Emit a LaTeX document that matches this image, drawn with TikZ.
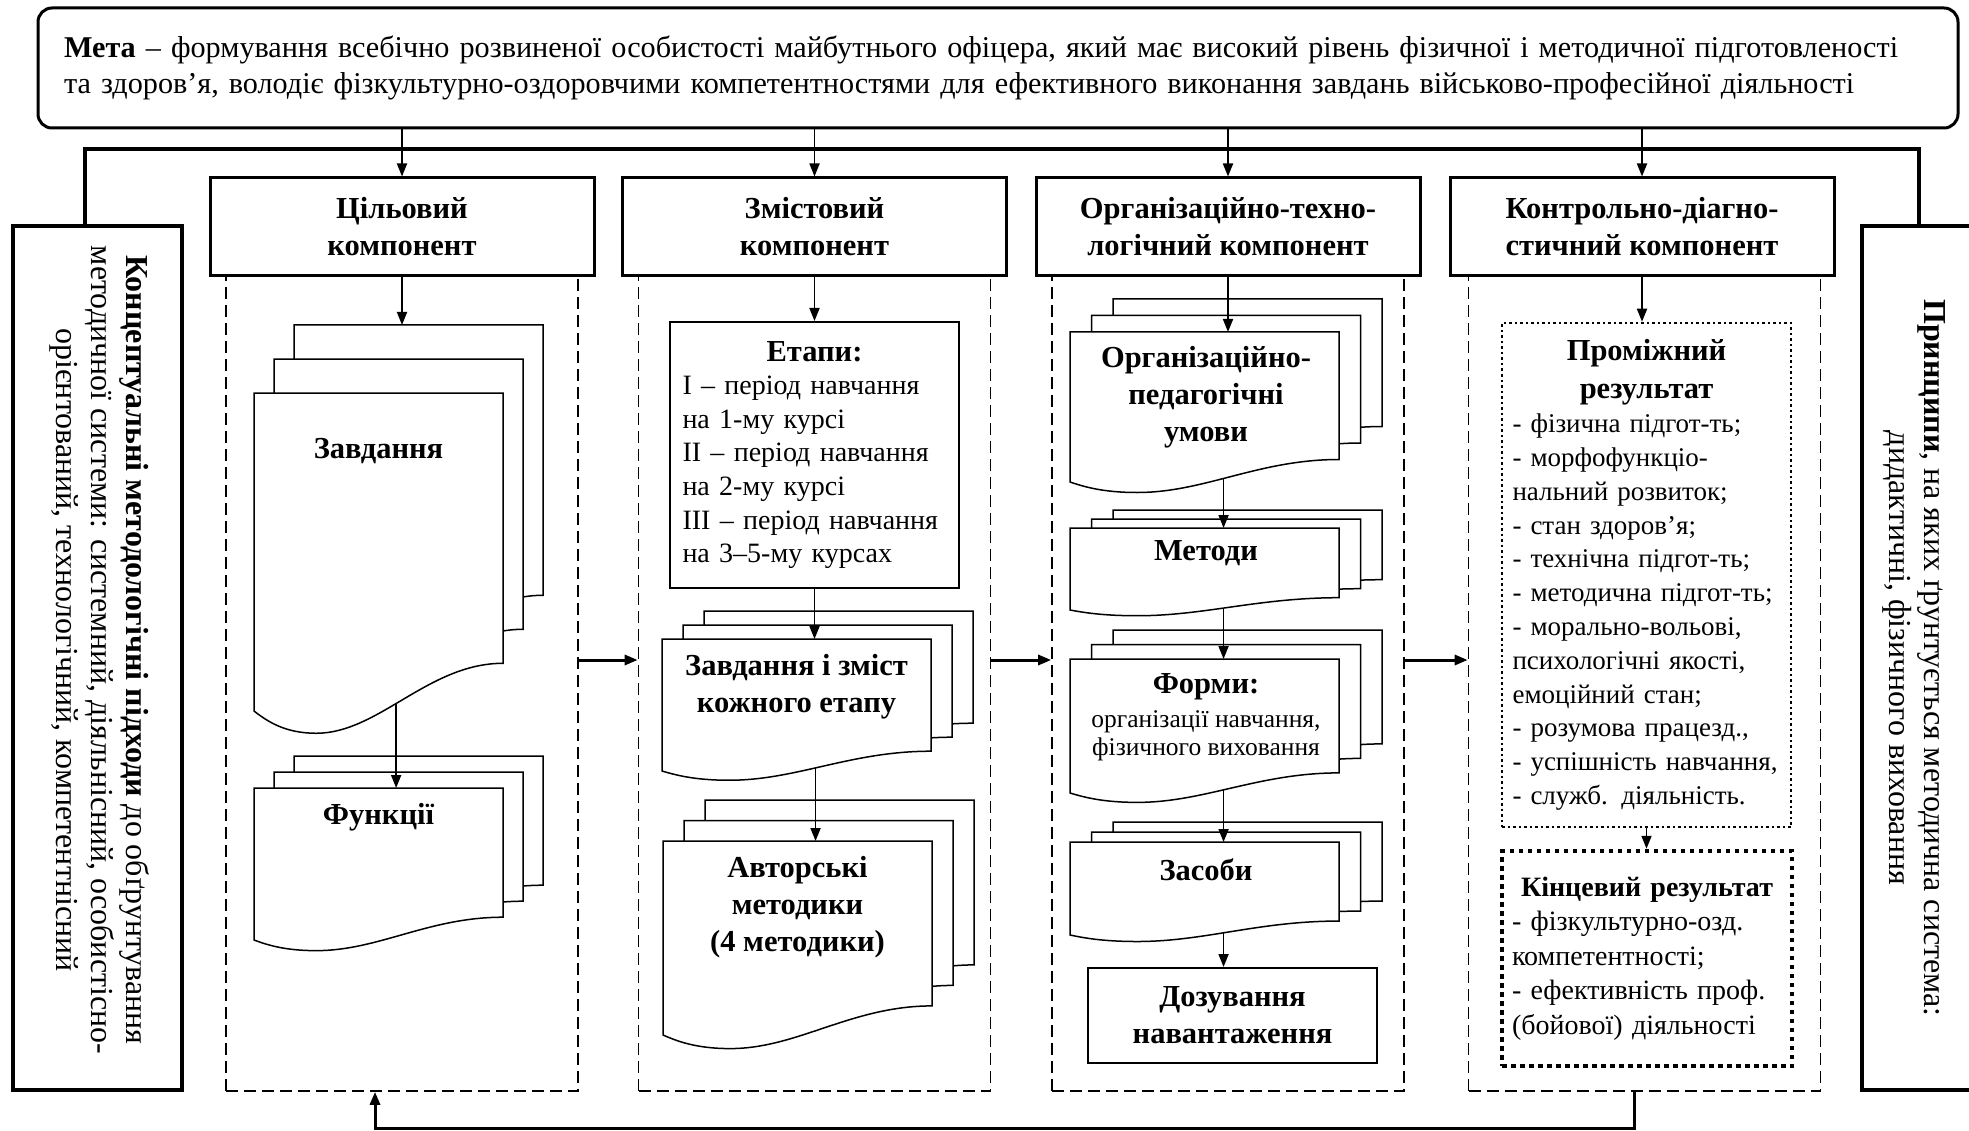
\documentclass[tikz,border=0pt]{standalone}
\usepackage{fontspec}
\setmainfont{Liberation Serif}
\usetikzlibrary{arrows.meta,backgrounds}

% one sheet of a document stack: x, y, width, height, name
\newcommand{\sheet}[5]{%
  \path[sheet] ({#1},{#2}) -- ({#1+#3},{#2}) coordinate[midway] (#5-t)
    -- ({#1+#3},{#2+0.85*#4})
    .. controls ({#1+0.7*#3},{#2+0.85*#4}) and ({#1+0.5*#3},{#2+1.07*#4})
    .. ({#1+0.25*#3},{#2+1.07*#4}) coordinate[pos=0.55] (#5-w)
    .. controls ({#1+0.12*#3},{#2+1.07*#4}) and ({#1+0.05*#3},{#2+1.03*#4})
    .. ({#1},{#2+#4}) -- cycle;}
% three sheets: x, y, width, height, dx, dy, name
\newcommand{\docstack}[7]{%
  \begin{scope}[on background layer]
    \sheet{#1+2*(#5)}{#2+2*(#6)}{#3}{#4}{#7-b}
    \sheet{#1+#5}{#2+#6}{#3}{#4}{#7-m}
    \sheet{#1}{#2}{#3}{#4}{#7}
  \end{scope}}

\begin{document}
\begin{tikzpicture}[x=1pt, y=-1pt,
    >={Triangle[length=13pt,width=10pt]},
    txt/.style={font=\fontsize{32}{35}\selectfont, align=center},
    bt/.style={font=\bfseries\fontsize{30.5}{37}\selectfont, align=center},
    hdr/.style={draw, fill=white, line width=3pt, minimum width=384, minimum height=98, bt},
    col/.style={draw, line width=1.6pt, dash pattern=on 12pt off 6pt, minimum width=352, minimum height=815},
    side/.style={draw, line width=4pt, minimum width=169, minimum height=864},
    plainbox/.style={draw, line width=2pt, fill=white},
    sheet/.style={draw, fill=white, line width=1.5pt},
    arr/.style={->, line width=1.8pt},
    harr/.style={->, line width=3pt},
    bus/.style={line width=4pt}]
    \useasboundingbox (0,0) rectangle (1969,1131);

    % goal
    \node[draw, line width=3pt, rounded corners=14pt, minimum width=1920, minimum height=120,
          text width=1868, inner xsep=26, align=left, font=\fontsize{30.2}{36}\selectfont] (meta) at (998,68)
        {\textbf{Мета} – формування всебічно розвиненої особистості майбутнього офіцера, який має високий рівень фізичної і методичної підготовленості\\
         та здоров’я, володіє фізкультурно-оздоровчими компетентностями для ефективного виконання завдань військово-професійної діяльності};

    % side boxes
    \coordinate (busl) at (85,149);
    \coordinate (busr) at (1919,149);
    \node[side] (cp) at (97.5,658) {};
    \node[side, minimum width=133] (pp) at (1928.5,658) {};
    \node[txt, rotate=-90] (cpt) at (100,650)
        {\textbf{Концептуальні методологічні підходи} до обґрунтування\\
         методичної системи: системний, діяльнісний, особистісно-\\
         орієнтований, технологічний, компетентнісний};
    \node[txt, rotate=-90] (ppt) at (1914,658)
        {\textbf{Принципи}, на яких ґрунтується методична система:\\
         дидактичні, фізичного виховання};
    \draw[bus] (cp.north -| busl) -- (busl) -- (busr) -- (busr |- pp.north);

    % components
    \node[col] (c1) at (402,683.5) {};
    \node[col] (c2) at (814.5,683.5) {};
    \node[col] (c3) at (1228,683.5) {};
    \node[col] (c4) at (1644.5,683.5) {};
    \node[hdr] (h1) at (402,227) {Цільовий\\компонент};
    \node[hdr] (h2) at (814.5,227) {Змістовий\\компонент};
    \node[hdr] (h3) at (1228,227) {Організаційно-техно-\\логічний компонент};
    \node[hdr] (h4) at (1642,227) {Контрольно-діагно-\\стичний компонент};
    \foreach \h in {h1,h2,h3,h4}
        \draw[arr] (\h.north |- meta.south) -- (\h.north);

    % column 1
    \node[bt] (zvt) at (378.5,451) {Завдання};
    \docstack{254}{393}{249}{318}{20}{-34}{zv}
    \node[bt] (fnt) at (378.5,817) {Функції};
    \docstack{254}{788}{249}{152}{20}{-16}{fn}
    \draw[arr] (h1.south) -- (h1.south |- zv-b-t);
    \draw[arr] (zv-w) -- (zv-w |- fn-t);

    % column 2
    \node[plainbox, text width=264, inner xsep=12.5, minimum height=266, font=\fontsize{28}{33.6}\selectfont] (et) at (814.5,455)
        {\centering{\bfseries\fontsize{30.5}{33.6}\selectfont Етапи:\par}\raggedright
         I – період навчання\\на 1-му курсі\\II – період навчання\\на 2-му курсі\\III – період навчання\\на 3–5-му курсах};
    \node[bt] (zzt) at (796.5,687) {Завдання і зміст\\кожного етапу};
    \docstack{662}{639}{269}{132}{21}{-14}{zz}
    \node[bt] (amt) at (797.5,907) {Авторські\\методики\\(4 методики)};
    \docstack{663}{841}{269}{194}{21}{-20.5}{am}
    \draw[arr] (h2.south) -- (et.north);
    \draw[arr] (et.south) -- (et.south |- zz-t);
    \draw[arr] (zz-w) -- (zz-w |- am-t);

    % column 3
    \node[bt] (opt) at (1206,397) {Організаційно-\\педагогічні\\умови};
    \docstack{1070}{332}{269}{150}{21.5}{-16.5}{op}
    \node[bt] (mtt) at (1206,553) {Методи};
    \docstack{1070}{528}{269}{82}{21.5}{-9}{mt}
    \node[bt] (fmt) at (1206,717) {Форми:\\[-3pt]{\mdseries\fontsize{25.5}{27}\selectfont організації навчання,}\\[-9pt]
        {\mdseries\fontsize{25.5}{27}\selectfont фізичного виховання}};
    \docstack{1070}{659}{269}{134}{21.5}{-14.5}{fm}
    \node[bt] (zst) at (1206,870) {Засоби};
    \docstack{1070}{842}{269}{93}{21.5}{-10}{zs}
    \node[plainbox, minimum width=289, minimum height=95, bt] (dz) at (1232.5,1015.5) {Дозування\\навантаження};
    \draw[arr] (h3.south) -- (h3.south |- op-t);
    \draw[arr] (op-w) -- (op-w |- mt-t);
    \draw[arr] (mt-w) -- (mt-w |- fm-t);
    \draw[arr] (fm-w) -- (fm-w |- zs-t);
    \draw[arr] (zs-w) -- (zs-w |- dz.north);

    % column 4
    \node[draw, line width=2.5pt, dash pattern=on 2.5pt off 3pt, text width=268, inner xsep=10.5, minimum height=504,
          font=\fontsize{27}{33.8}\selectfont] (pr) at (1646.5,575)
        {\centering{\bfseries\fontsize{30.5}{38}\selectfont Проміжний\\результат\par}\raggedright
         - фізична підгот-ть;\\- морфофункціо-\\нальний розвиток;\\- стан здоров’я;\\- технічна підгот-ть;\\
         - методична підгот-ть;\\- морально-вольові,\\психологічні якості,\\емоційний стан;\\
         - розумова працезд.,\\- успішність навчання,\\- служб. діяльність.};
    \node[draw, line width=4.5pt, dash pattern=on 4.5pt off 4.5pt, text width=270, inner xsep=10, minimum height=215,
          font=\fontsize{28}{34.5}\selectfont] (kn) at (1647,958.5)
        {\centering\textbf{Кінцевий~результат}\par\raggedright
         - фізкультурно-озд.\\компетентності;\\- ефективність проф.\\(бойової) діяльності};
    \draw[arr] (h4.south) -- (h4.south |- pr.north);
    \draw[arr] (pr.south) -- (pr.south |- kn.north);

    % links between components
    \foreach \a/\b in {c1/c2,c2/c3,c3/c4}
        \draw[harr] ([yshift=23.5]\a.east) -- ([yshift=23.5]\b.west);
    \draw[harr] ([xshift=-10]c4.south) -- ++(0,37) -| ([xshift=-27]c1.south);
\end{tikzpicture}
\end{document}
